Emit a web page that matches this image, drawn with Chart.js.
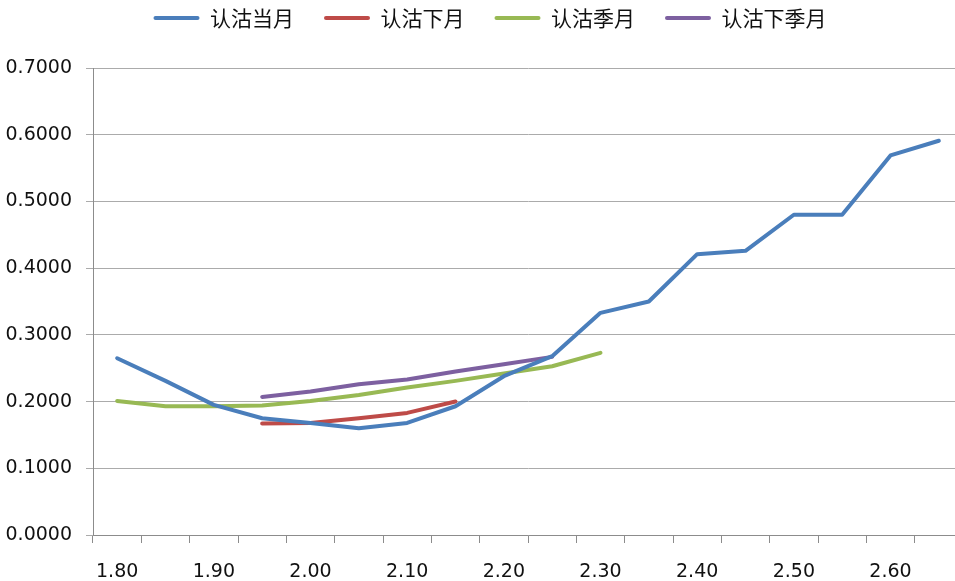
<!DOCTYPE html>
<html>
<head>
<meta charset="utf-8">
<script src="https://cdn.jsdelivr.net/npm/chart.js@4/dist/chart.umd.min.js"></script>
<style>
html,body{margin:0;padding:0;background:#fff;overflow:hidden;}
#wrap{position:relative;width:963px;height:581px;}
</style>
</head>
<body>
<div id="wrap"><canvas id="c"></canvas></div>
<script>
const categories = ['1.80','1.85','1.90','1.95','2.00','2.05','2.10','2.15','2.20','2.25','2.30','2.35','2.40','2.45','2.50','2.55','2.60','2.65'];
const seriesNames = ['认沽当月','认沽下月','认沽季月','认沽下季月'];
const putCurrent = [0.265,0.231,0.195,0.175,0.168,0.160,0.168,0.193,0.238,0.268,0.333,0.350,0.421,0.426,0.480,0.480,0.569,0.591];
const putNext = [null,null,null,0.167,0.168,0.175,0.183,0.200,null,null,null,null,null,null,null,null,null,null];
const putQuarter = [0.201,0.193,0.193,0.194,0.201,0.210,0.221,0.231,0.242,0.253,0.273,null,null,null,null,null,null,null];
const putNextQuarter = [null,null,null,0.207,0.215,0.226,0.233,0.245,0.256,0.267,null,null,null,null,null,null,null,null];
const yTicks = [0,0.1,0.2,0.3,0.4,0.5,0.6,0.7];
const colors = ['#4a7ebb','#be4b48','#98b954','#7d60a0'];

const seriesData = [putCurrent, putNext, putQuarter, putNextQuarter];
const datasets = seriesData.map((d,i)=>({
  label: seriesNames[i],
  data: d,
  borderColor: colors[i],
  backgroundColor: colors[i],
  borderWidth: 4,
  pointRadius: 0,
  pointHoverRadius: 0,
  tension: 0,
  spanGaps: false,
  borderCapStyle: 'round',
  borderJoinStyle: 'round',
  fill: false
}));

const legendFit = {
  id: 'legendFit',
  beforeInit(chart) {
    const orig = chart.legend.fit;
    chart.legend.fit = function() {
      orig.call(this);
      this.height = 90.5;
    };
  },
  afterLayout(chart) {
    chart.legend.left += 8.5;
    chart.legend.right += 8.5;
  }
};

new Chart(document.getElementById('c'), {
  type: 'line',
  data: { labels: categories, datasets },
  plugins: [legendFit],
  options: {
    responsive: true,
    maintainAspectRatio: false,
    animation: false,
    devicePixelRatio: 1,
    layout: { padding: { left: 0, right: 0, top: -22.5, bottom: 0 } },
    plugins: {
      tooltip: { enabled: false },
      legend: {
        position: 'top',
        labels: {
          font: { family: '"Noto Sans CJK SC"', size: 21 },
          color: '#111',
          boxWidth: 46,
          boxHeight: 4,
          padding: 30,
          generateLabels(chart) {
            const items = Chart.defaults.plugins.legend.labels.generateLabels(chart);
            items.forEach(it => { it.lineWidth = 0; it.borderRadius = 2; });
            return items;
          }
        }
      }
    },
    scales: {
      x: {
        type: 'category',
        offset: true,
        afterFit(axis) { axis.height = 46; },
        grid: { offset: true, drawOnChartArea: false, drawTicks: true, tickLength: 8, color: '#8c8c8c' },
        border: { color: '#8c8c8c', width: 1 },
        ticks: {
          autoSkip: false,
          maxRotation: 0,
          minRotation: 0,
          padding: 18,
          color: '#111',
          font: { family: '"DejaVu Sans"', size: 19 },
          callback: function(v, i) { return i % 2 === 0 ? categories[i] : ''; }
        }
      },
      y: {
        min: yTicks[0],
        max: yTicks[yTicks.length-1],
        afterBuildTicks(axis) { axis.ticks = yTicks.map(v => ({ value: v })); },
        afterFit(axis) { axis.width = 93; },
        grid: { color: '#ababab', tickLength: 7, lineWidth: 1 },
        border: { color: '#8c8c8c', width: 1 },
        ticks: {
          padding: 14,
          color: '#111',
          font: { family: '"DejaVu Sans"', size: 19 },
          callback: v => Number(v).toFixed(4)
        }
      }
    }
  }
});
</script>
</body>
</html>
